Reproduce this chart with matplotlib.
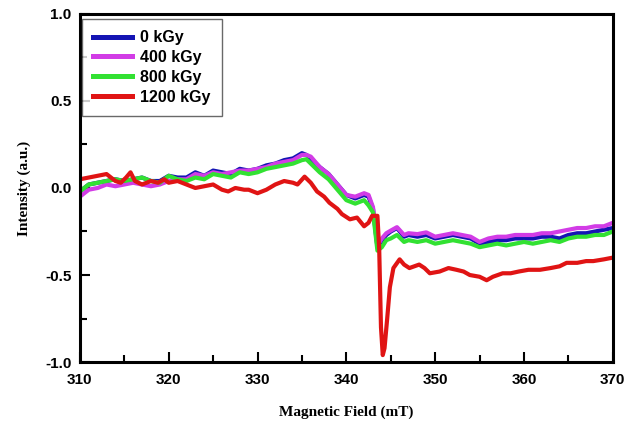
import matplotlib
matplotlib.use("Agg")
import matplotlib.pyplot as plt
from matplotlib.ticker import MultipleLocator

# ---- data ----
field = [310, 311, 312, 313, 314, 315, 316, 317, 318, 319, 320, 321, 322, 323, 324, 325,
         326, 327, 328, 329, 330, 331, 332, 333, 334, 335, 335.5, 336, 337, 338, 339, 340,
         341, 342, 342.5, 343, 343.5, 344, 344.5, 345, 345.7, 346.5, 347, 348, 349, 350,
         351, 352, 353, 354, 355, 356, 357, 358, 359, 360, 361, 362, 363, 364, 365, 366,
         367, 368, 369, 370]

kgy0 = [-0.02, 0.02, 0.03, 0.04, 0.05, 0.04, 0.05, 0.06, 0.04, 0.04, 0.07, 0.06, 0.06, 0.09, 0.07, 0.10,
        0.09, 0.08, 0.11, 0.10, 0.11, 0.13, 0.14, 0.16, 0.17, 0.20, 0.19, 0.17, 0.12, 0.08, 0.02, -0.04,
        -0.06, -0.04, -0.05, -0.12, -0.34, -0.30, -0.27, -0.25, -0.23, -0.28, -0.27, -0.28, -0.27, -0.29,
        -0.28, -0.27, -0.28, -0.29, -0.32, -0.31, -0.30, -0.30, -0.29, -0.29, -0.29, -0.28, -0.28, -0.29, -0.27, -0.26,
        -0.26, -0.25, -0.24, -0.23]

kgy400 = [-0.05, -0.01, 0.00, 0.02, 0.01, 0.02, 0.03, 0.02, 0.01, 0.02, 0.04, 0.05, 0.05, 0.08, 0.07, 0.09,
          0.08, 0.09, 0.10, 0.10, 0.11, 0.12, 0.14, 0.15, 0.16, 0.19, 0.19, 0.18, 0.12, 0.08, 0.02, -0.04,
          -0.05, -0.03, -0.04, -0.11, -0.33, -0.29, -0.26, -0.245, -0.225, -0.27, -0.26, -0.265, -0.255, -0.28,
          -0.27, -0.26, -0.27, -0.28, -0.31, -0.29, -0.28, -0.28, -0.27, -0.27, -0.27, -0.26, -0.26, -0.25, -0.24, -0.23,
          -0.23, -0.22, -0.22, -0.20]

kgy800 = [-0.02, 0.02, 0.03, 0.04, 0.05, 0.04, 0.05, 0.06, 0.04, 0.03, 0.07, 0.05, 0.04, 0.06, 0.05, 0.08,
          0.07, 0.06, 0.09, 0.08, 0.09, 0.11, 0.12, 0.13, 0.14, 0.16, 0.165, 0.14, 0.09, 0.05, -0.01, -0.07,
          -0.09, -0.07, -0.10, -0.14, -0.36, -0.34, -0.30, -0.29, -0.27, -0.31, -0.30, -0.31, -0.30, -0.32,
          -0.31, -0.30, -0.31, -0.32, -0.34, -0.33, -0.32, -0.33, -0.32, -0.31, -0.32, -0.31, -0.30, -0.31, -0.29, -0.28,
          -0.28, -0.27, -0.27, -0.25]

field_1200 = [310, 311, 312, 313, 313.5, 314, 314.6, 315.2, 315.7, 316.2, 317, 318, 318.8, 319.5, 320,
              321, 322, 323, 324, 325, 326, 326.7, 327.5, 328.5, 329, 330, 331, 332, 333, 334, 334.5,
              335.3, 336, 336.7, 337.5, 338.1, 339, 339.5, 340.4, 341.2, 342, 342.5, 342.9, 343.5,
              343.7, 343.9, 344.1, 344.3, 344.6, 344.9, 345.3, 346, 346.5, 347.1, 348.2, 348.8, 349.4,
              350.5, 351.5, 352.4, 353.2, 353.9, 355, 355.8, 356.5, 357.6, 358.5, 359.4, 360.5, 361.8,
              363, 364, 364.8, 366, 367, 367.8, 369, 370]
kgy1200 = [0.05, 0.06, 0.07, 0.08, 0.06, 0.04, 0.03, 0.06, 0.09, 0.04, 0.02, 0.04, 0.03, 0.05, 0.03,
           0.04, 0.02, 0.00, 0.01, 0.02, -0.01, -0.02, 0.00, -0.01, -0.01, -0.03, -0.01, 0.02, 0.04, 0.03, 0.02,
           0.065, 0.03, -0.02, -0.05, -0.085, -0.12, -0.15, -0.18, -0.17, -0.22, -0.20, -0.16, -0.16,
           -0.35, -0.80, -0.96, -0.92, -0.75, -0.57, -0.46, -0.41, -0.44, -0.46, -0.44, -0.46, -0.49,
           -0.48, -0.46, -0.47, -0.48, -0.50, -0.51, -0.53, -0.51, -0.49, -0.49, -0.48, -0.47, -0.47,
           -0.46, -0.45, -0.43, -0.43, -0.42, -0.42, -0.41, -0.40]

labels = ["0 kGy", "400 kGy", "800 kGy", "1200 kGy"]
colors = ["#1414b4", "#d23ce6", "#32e132", "#e01414"]
xticks = [310, 320, 330, 340, 350, 360, 370]
yticks = [-1.0, -0.5, 0.0, 0.5, 1.0]

# ---- plot ----
fig = plt.figure(figsize=(6.39, 4.21), dpi=100)
ax = fig.add_axes([0.125, 0.140, 0.834, 0.827])

series = [(field, kgy0), (field, kgy400), (field, kgy800), (field_1200, kgy1200)]
for (xs, ys), lab, c in zip(series, labels, colors):
    ax.plot(xs, ys, color=c, lw=3.0, label=lab, solid_joinstyle="round")

ax.set_xlim(310, 370)
ax.set_ylim(-1.0, 1.0)
ax.xaxis.set_minor_locator(MultipleLocator(5))
ax.yaxis.set_minor_locator(MultipleLocator(0.25))
ax.tick_params(which="both", direction="in", top=False, right=False, width=1.5, pad=6)
ax.tick_params(axis="x", which="major", pad=8)
ax.tick_params(which="major", length=7)
ax.tick_params(which="minor", length=5)
for sp in ax.spines.values():
    sp.set_linewidth(2.2)

tickfont = dict(family="Liberation Sans", weight="bold", size=11)
ax.set_xticks(xticks)
ax.set_xticklabels([str(v) for v in xticks], **tickfont)
ax.set_yticks(yticks)
ax.set_yticklabels([f"{v:.1f}" for v in yticks], **tickfont)

ax.set_xlabel("Magnetic Field (mT)", family="Liberation Serif", weight="bold", size=11, labelpad=13)
ax.set_ylabel("Intensity (a.u.)", family="Liberation Serif", weight="bold", size=11, labelpad=10)

leg = ax.legend(loc="upper left", bbox_to_anchor=(0.004, 0.985), fancybox=False, frameon=True,
                prop=dict(family="Liberation Sans", weight="bold", size=11.5),
                handlelength=2.45, handletextpad=0.5, labelspacing=0.3, borderpad=0.7,
                borderaxespad=0.0)
leg.get_frame().set_edgecolor("#444444")
leg.get_frame().set_linewidth(1.0)
for h in leg.get_lines():
    h.set_linewidth(3.6)

fig.savefig("out.png", dpi=100)
